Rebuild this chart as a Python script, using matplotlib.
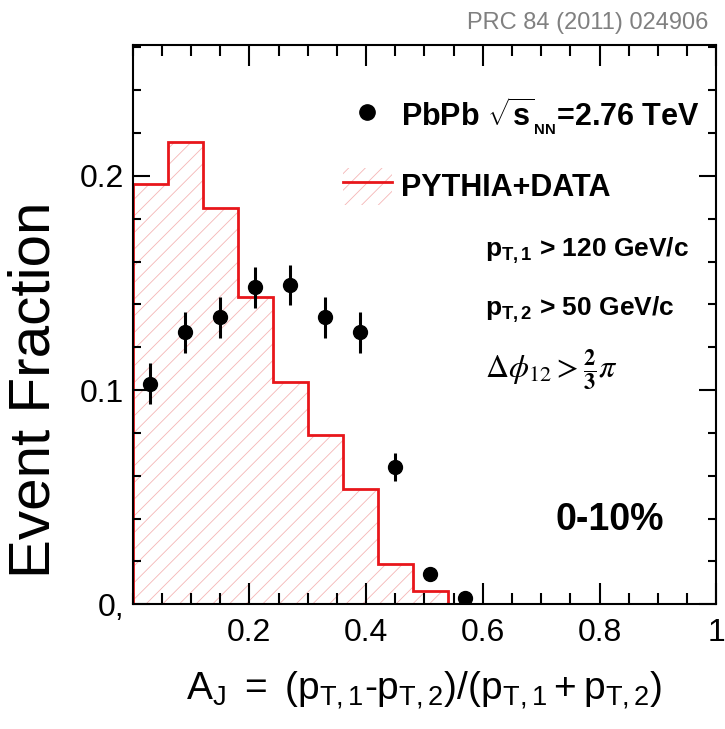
import matplotlib
matplotlib.use('Agg')
import matplotlib.pyplot as plt
import numpy as np
from matplotlib.patches import Patch
from matplotlib.lines import Line2D
from matplotlib.ticker import MultipleLocator

plt.rcParams['font.family'] = ['Liberation Sans', 'DejaVu Sans']
plt.rcParams['mathtext.fontset'] = 'custom'
plt.rcParams['mathtext.rm'] = 'Liberation Sans'
plt.rcParams['mathtext.it'] = 'Liberation Sans'
plt.rcParams['mathtext.bf'] = 'Liberation Sans:bold'
plt.rcParams['hatch.linewidth'] = 0.6

#=========================
# data
#=========================
bin_edges = [0.0, 0.06, 0.12, 0.18, 0.24, 0.30, 0.36, 0.42, 0.48, 0.54]
pythia_frac = [0.196, 0.216, 0.185, 0.1435, 0.104, 0.079, 0.054, 0.019, 0.006]

aj_points = [0.03, 0.09, 0.15, 0.21, 0.27, 0.33, 0.39, 0.45, 0.51, 0.57]
pbpb_frac = [0.103, 0.127, 0.134, 0.148, 0.149, 0.134, 0.127, 0.064, 0.014, 0.003]
pbpb_err = [0.0095, 0.0095, 0.0095, 0.0095, 0.0095, 0.0095, 0.0095, 0.0065, 0.003, 0.002]

x_ticks = [0.2, 0.4, 0.6, 0.8, 1.0]
x_tick_labels = ['0.2', '0.4', '0.6', '0.8', '1']
y_ticks = [0.0, 0.1, 0.2]
y_tick_labels = ['0,', '0.1', '0.2']

fig = plt.figure(figsize=(7.25, 7.29), dpi=100)
ax = fig.add_axes([0.183, 0.171, 0.805, 0.767])

hatch_col = '#f5b5b5'
ax.stairs(pythia_frac, bin_edges, fill=True, facecolor='none',
          edgecolor=hatch_col, hatch='//', linewidth=0)
ax.stairs(pythia_frac, bin_edges, color='#e8161b', linewidth=2.0, baseline=0)

ax.errorbar(aj_points, pbpb_frac, yerr=pbpb_err, fmt='o', color='black',
            markersize=10, elinewidth=2.2, capsize=0, zorder=5)

ax.set_xlim(0, 1)
ax.set_ylim(0, 0.261)
ax.set_xticks(x_ticks)
ax.set_xticklabels(x_tick_labels)
ax.set_yticks(y_ticks)
ax.set_yticklabels(y_tick_labels)
ax.xaxis.set_minor_locator(MultipleLocator(0.05))
ax.yaxis.set_minor_locator(MultipleLocator(0.02))
ax.tick_params(which='both', direction='in', top=True, right=True, width=1.5)
ax.tick_params(axis='x', which='major', length=15, labelsize=23, pad=10)
ax.tick_params(axis='x', which='minor', length=8)
ax.tick_params(axis='y', which='major', length=12, labelsize=23, pad=6)
ax.tick_params(axis='y', which='minor', length=6)
for s in ax.spines.values():
    s.set_linewidth(1.5)

ax.set_ylabel('Event Fraction', fontsize=42)
ax.yaxis.set_label_coords(-0.122, 0.383)
ax.set_xlabel(r'$\mathrm{A_J\ =\ (p_{T,1}\text{-}p_{T,2})/(p_{T,1}+p_{T,2})}$',
              fontsize=28, labelpad=15)

# legend
handles = [Line2D([], [], marker='o', color='black', linestyle='none', markersize=11),
           (Patch(facecolor='none', edgecolor=hatch_col, hatch='//', linewidth=0),
            Line2D([], [], color='#e8161b', linewidth=2.0))]
labels = [r'PbPb $\mathbf{\sqrt{s}_{_{NN}}}$=2.76 TeV', 'PYTHIA+DATA']
ax.legend(handles, labels, loc='upper left', bbox_to_anchor=(0.36, 0.91),
          frameon=False, prop={'weight': 'bold', 'size': 22},
          handlelength=1.6, handleheight=1.5, handletextpad=0.3,
          labelspacing=1.0, borderpad=0, borderaxespad=0)

ax.text(0.604, 0.633, r'$\mathbf{p_{T,1}}$ > 120 GeV/c', transform=ax.transAxes,
        fontsize=19, fontweight='bold', va='center')
ax.text(0.604, 0.526, r'$\mathbf{p_{T,2}}$ > 50 GeV/c', transform=ax.transAxes,
        fontsize=19, fontweight='bold', va='center')
ax.text(0.604, 0.419, r'$\Delta\phi_{12} > \frac{\mathbf{2}}{\mathbf{3}}\pi$',
        transform=ax.transAxes, fontsize=23, va='center', math_fontfamily='stix')
ax.text(0.724, 0.150, '0-10%', transform=ax.transAxes, fontsize=27,
        fontweight='bold', va='center')

fig.text(0.977, 0.968, 'PRC 84 (2011) 024906', ha='right', va='center',
         fontsize=17, color='#808080')

plt.savefig('out.png', dpi=100)
